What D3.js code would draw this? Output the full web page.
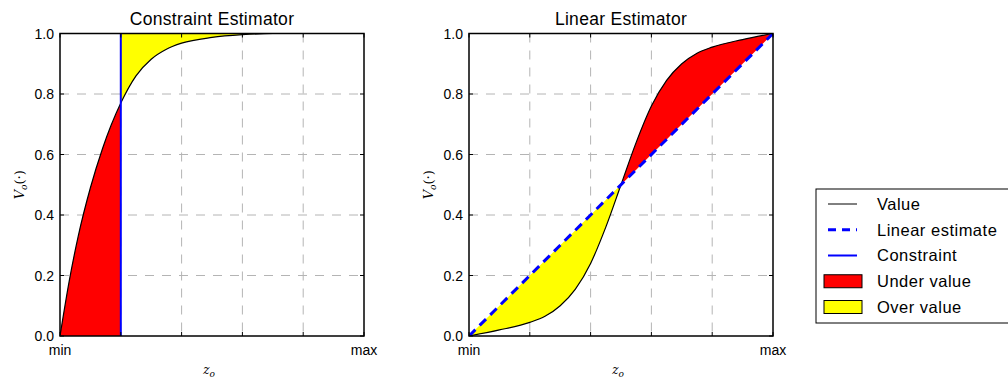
<!DOCTYPE html>
<html>
<head>
<meta charset="utf-8">
<script src="https://cdn.jsdelivr.net/npm/d3@7"></script>
<style>
    body { margin: 0; background: #fff; }
    svg { font-family: "Liberation Sans", Arial, sans-serif; display: block; }
</style>
</head>
<body>
<svg id="chart" width="1008" height="381"></svg>
<script>
// Value function (z in [0,1] between min and max)
const constraintX = [0, 0.03, 0.06, 0.1, 0.14, 0.2, 0.25, 0.3, 0.35, 0.4, 0.5, 0.6, 0.7, 1];
const constraintY = [0, 0.18, 0.33, 0.49, 0.62, 0.77, 0.86, 0.915, 0.948, 0.968, 0.987, 0.996, 1, 1];
const constraintAt = 0.2;

// Value function
const linearValX = [0, 0.1, 0.2, 0.25, 0.3, 0.35, 0.4, 0.45, 0.5, 0.55, 0.6, 0.65, 0.7, 0.75, 0.8, 0.9, 1];
const linearValY = [0, 0.02, 0.045, 0.065, 0.1, 0.155, 0.24, 0.36, 0.5, 0.64, 0.76, 0.845, 0.9, 0.935, 0.955, 0.98, 1];
const linearEstX = [0, 1];
const linearEstY = [0, 1];

const xTicks = [0, 0.2, 0.4, 0.6, 0.8, 1];
const yTicks = [0, 0.2, 0.4, 0.6, 0.8, 1];
const xTickLabels = { 0: "min", 1: "max" };

const legendItems = [
    { label: "Value", type: "line", color: "#000", width: 1, dash: null },
    { label: "Linear estimate", type: "line", color: "#0000ff", width: 3, dash: "8,6" },
    { label: "Constraint", type: "line", color: "#0000ff", width: 2, dash: null },
    { label: "Under value", type: "patch", color: "#ff0000" },
    { label: "Over value", type: "patch", color: "#ffff00" },
];

const PANEL_LEFT = { title: "Constraint Estimator", left: 60, top: 33.5, width: 304, height: 302.5 };
const PANEL_RIGHT = { title: "Linear Estimator", left: 469, top: 33.5, width: 304, height: 302.5 };

const svg = d3.select("#chart");

function buildPanel(p, id) {
    p.x = d3.scaleLinear().domain([0, 1]).range([0, p.width]);
    p.y = d3.scaleLinear().domain([0, 1]).range([p.height, 0]);
    p.g = svg.append("g").attr("transform", `translate(${p.left},${p.top})`);

    svg.append("clipPath").attr("id", id)
        .append("rect").attr("width", p.width).attr("height", p.height);

    // Dashed grid
    const grid = p.g.append("g");
    grid.selectAll(".gx").data(xTicks.slice(1, -1)).join("line")
        .attr("x1", d => p.x(d)).attr("x2", d => p.x(d))
        .attr("y1", 0).attr("y2", p.height);
    grid.selectAll(".gy").data(yTicks.slice(1, -1)).join("line")
        .attr("y1", d => p.y(d)).attr("y2", d => p.y(d))
        .attr("x1", 0).attr("x2", p.width);
    grid.selectAll("line")
        .attr("stroke", "#b4b4b4").attr("stroke-width", 1)
        .attr("stroke-dasharray", "9,8");

    p.plot = p.g.append("g").attr("clip-path", `url(#${id})`);
}

function finishPanel(p) {
    // Frame
    p.g.append("rect")
        .attr("width", p.width).attr("height", p.height)
        .attr("fill", "none").attr("stroke", "#000").attr("stroke-width", 1.5);

    // Inward ticks on all four sides
    const t = p.g.append("g").attr("stroke", "#000").attr("stroke-width", 1);
    xTicks.forEach(d => {
        t.append("line").attr("x1", p.x(d)).attr("x2", p.x(d)).attr("y1", p.height).attr("y2", p.height - 4);
        t.append("line").attr("x1", p.x(d)).attr("x2", p.x(d)).attr("y1", 0).attr("y2", 4);
    });
    yTicks.forEach(d => {
        t.append("line").attr("y1", p.y(d)).attr("y2", p.y(d)).attr("x1", 0).attr("x2", 4);
        t.append("line").attr("y1", p.y(d)).attr("y2", p.y(d)).attr("x1", p.width).attr("x2", p.width - 4);
    });

    // Tick labels
    p.g.selectAll(".yl").data(yTicks).join("text")
        .attr("x", -6).attr("y", d => p.y(d)).attr("dy", "0.36em")
        .attr("text-anchor", "end").attr("font-size", 14).text(d => d.toFixed(1));
    p.g.selectAll(".xl").data(xTicks.filter(d => xTickLabels[d])).join("text")
        .attr("x", d => p.x(d)).attr("y", p.height + 19)
        .attr("text-anchor", "middle").attr("font-size", 14).text(d => xTickLabels[d]);

    // Title
    p.g.append("text").attr("x", p.width / 2).attr("y", -9)
        .attr("text-anchor", "middle").attr("font-size", 17.5)
        .attr("letter-spacing", 0.3).text(p.title);

    // Axis labels
    const yl = p.g.append("text")
        .attr("transform", `translate(${-36},${p.height / 2}) rotate(-90)`)
        .attr("text-anchor", "middle").attr("font-size", 13)
        .attr("font-family", "'DejaVu Serif', serif");
    yl.append("tspan").attr("font-style", "italic").text("V");
    yl.append("tspan").attr("font-style", "italic").attr("font-size", 9).attr("dy", 3).text("o");
    yl.append("tspan").attr("dy", -3).text("(·)");

    const xl = p.g.append("text")
        .attr("x", p.width / 2 - 3).attr("y", p.height + 38)
        .attr("text-anchor", "middle").attr("font-size", 12)
        .attr("font-family", "'DejaVu Serif', serif");
    xl.append("tspan").attr("font-style", "italic").text("z");
    xl.append("tspan").attr("font-style", "italic").attr("font-size", 9).attr("dy", 3).text("o");
}

// ---- Left panel: constraint estimator
buildPanel(PANEL_LEFT, "clipL");
{
    const p = PANEL_LEFT;
    const pts = constraintX.map((x, i) => [x, constraintY[i]]);
    const under = pts.filter(d => d[0] <= constraintAt);
    const over = pts.filter(d => d[0] >= constraintAt);

    p.plot.append("path").datum(under)
        .attr("fill", "#ff0000")
        .attr("d", d3.area().curve(d3.curveMonotoneX)
            .x(d => p.x(d[0])).y0(p.y(0)).y1(d => p.y(d[1])));
    p.plot.append("path").datum(over)
        .attr("fill", "#ffff00")
        .attr("d", d3.area().curve(d3.curveMonotoneX)
            .x(d => p.x(d[0])).y0(d => p.y(d[1])).y1(p.y(1)));

    p.plot.append("path").datum(pts)
        .attr("fill", "none").attr("stroke", "#000").attr("stroke-width", 1.2)
        .attr("d", d3.line().curve(d3.curveMonotoneX).x(d => p.x(d[0])).y(d => p.y(d[1])));

    p.plot.append("line")
        .attr("x1", p.x(constraintAt)).attr("x2", p.x(constraintAt))
        .attr("y1", p.y(0)).attr("y2", p.y(1))
        .attr("stroke", "#0000ff").attr("stroke-width", 2);
}
finishPanel(PANEL_LEFT);

// ---- Right panel: linear estimator
buildPanel(PANEL_RIGHT, "clipR");
{
    const p = PANEL_RIGHT;
    const est = d3.scaleLinear().domain(linearEstX).range(linearEstY);
    const pts = linearValX.map((x, i) => [x, linearValY[i]]);
    const mid = 0.5;

    p.plot.append("path").datum(pts.filter(d => d[0] <= mid))
        .attr("fill", "#ffff00")
        .attr("d", d3.area().curve(d3.curveMonotoneX)
            .x(d => p.x(d[0])).y0(d => p.y(d[1])).y1(d => p.y(est(d[0]))));
    p.plot.append("path").datum(pts.filter(d => d[0] >= mid))
        .attr("fill", "#ff0000")
        .attr("d", d3.area().curve(d3.curveMonotoneX)
            .x(d => p.x(d[0])).y0(d => p.y(est(d[0]))).y1(d => p.y(d[1])));

    p.plot.append("path").datum(pts)
        .attr("fill", "none").attr("stroke", "#000").attr("stroke-width", 1.2)
        .attr("d", d3.line().curve(d3.curveMonotoneX).x(d => p.x(d[0])).y(d => p.y(d[1])));

    p.plot.append("path").datum(linearEstX.map((x, i) => [x, linearEstY[i]]))
        .attr("fill", "none").attr("stroke", "#0000ff").attr("stroke-width", 3)
        .attr("stroke-dasharray", "9,6")
        .attr("d", d3.line().x(d => p.x(d[0])).y(d => p.y(d[1])));
}
finishPanel(PANEL_RIGHT);

// ---- Legend (runs off the right edge, as in the original)
const legend = svg.append("g").attr("transform", "translate(816,189)");
legend.append("rect").attr("width", 220).attr("height", 134)
    .attr("fill", "#fff").attr("stroke", "#000").attr("stroke-width", 1);
const rowY = d3.scalePoint().domain(legendItems.map(d => d.label)).range([15, 118]);
legendItems.forEach(item => {
    const y = rowY(item.label);
    if (item.type === "line") {
        legend.append("line").attr("x1", 12).attr("x2", 41).attr("y1", y).attr("y2", y)
            .attr("stroke", item.color).attr("stroke-width", item.width)
            .attr("stroke-dasharray", item.dash);
    } else {
        legend.append("rect").attr("x", 8).attr("y", y - 6.5).attr("width", 38).attr("height", 13)
            .attr("fill", item.color).attr("stroke", "#000").attr("stroke-width", 1);
    }
    legend.append("text").attr("x", 61).attr("y", y).attr("dy", "0.36em")
        .attr("font-size", 16.5).attr("letter-spacing", 0.5).text(item.label);
});
</script>
</body>
</html>
